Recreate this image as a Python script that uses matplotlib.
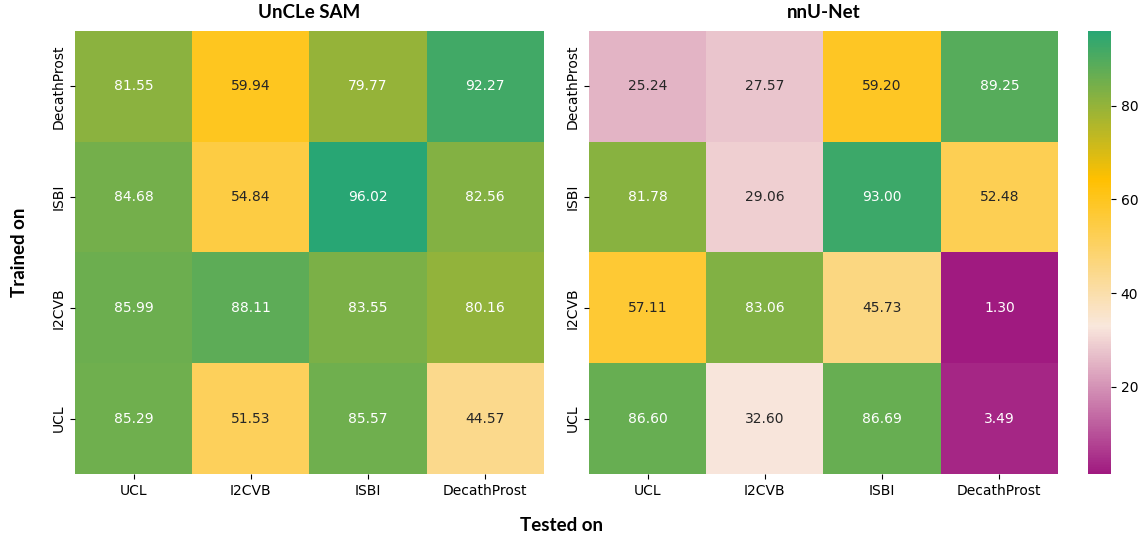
import numpy as np
import matplotlib
matplotlib.use("Agg")
import matplotlib.pyplot as plt
import seaborn as sns
from matplotlib.colors import LinearSegmentedColormap

tested = ["UCL", "I2CVB", "ISBI", "DecathProst"]
trained = ["DecathProst", "ISBI", "I2CVB", "UCL"]

uncle_sam = [
    [81.55, 59.94, 79.77, 92.27],
    [84.68, 54.84, 96.02, 82.56],
    [85.99, 88.11, 83.55, 80.16],
    [85.29, 51.53, 85.57, 44.57],
]
nnunet = [
    [25.24, 27.57, 59.20, 89.25],
    [81.78, 29.06, 93.00, 52.48],
    [57.11, 83.06, 45.73, 1.30],
    [86.60, 32.60, 86.69, 3.49],
]

cmap = LinearSegmentedColormap.from_list(
    "custom", ["#a01a80", "#f9e7dc", "#ffc000", "#28a674"])

vmin = min(np.min(uncle_sam), np.min(nnunet))
vmax = max(np.max(uncle_sam), np.max(nnunet))

fig = plt.figure(figsize=(11.45, 5.37), dpi=100)
ax1 = fig.add_axes([0.0655, 0.1173, 0.4095, 0.8250])
ax2 = fig.add_axes([0.5144, 0.1173, 0.4096, 0.8250])
cax = fig.add_axes([0.9502, 0.1173, 0.0200, 0.8250])

sns.heatmap(uncle_sam, ax=ax1, cmap=cmap, vmin=vmin, vmax=vmax, annot=True,
            fmt=".2f", cbar=False, xticklabels=tested, yticklabels=trained,
            annot_kws={"fontsize": 10})
sns.heatmap(nnunet, ax=ax2, cmap=cmap, vmin=vmin, vmax=vmax, annot=True,
            fmt=".2f", cbar_ax=cax, xticklabels=tested, yticklabels=trained,
            annot_kws={"fontsize": 10})

for ax, title in [(ax1, "UnCLe SAM"), (ax2, "nnU-Net")]:
    ax.set_title(title, fontsize=13.5, fontweight="bold", family="Lato", pad=9)
    ax.tick_params(labelsize=10)
    plt.setp(ax.get_yticklabels(), rotation=90, va="center")
    plt.setp(ax.get_xticklabels(), rotation=0)

cax.tick_params(labelsize=10)
cax.set_yticks([20, 40, 60, 80])
for s in cax.spines.values():
    s.set_visible(False)

fig.text(0.49, 0.022, "Tested on", ha="center", va="center",
         fontsize=13.5, fontweight="bold", family="Lato")
fig.text(0.017, 0.53, "Trained on", ha="center", va="center", rotation=90,
         fontsize=13.5, fontweight="bold", family="Lato")

fig.savefig("out.png", dpi=100)
